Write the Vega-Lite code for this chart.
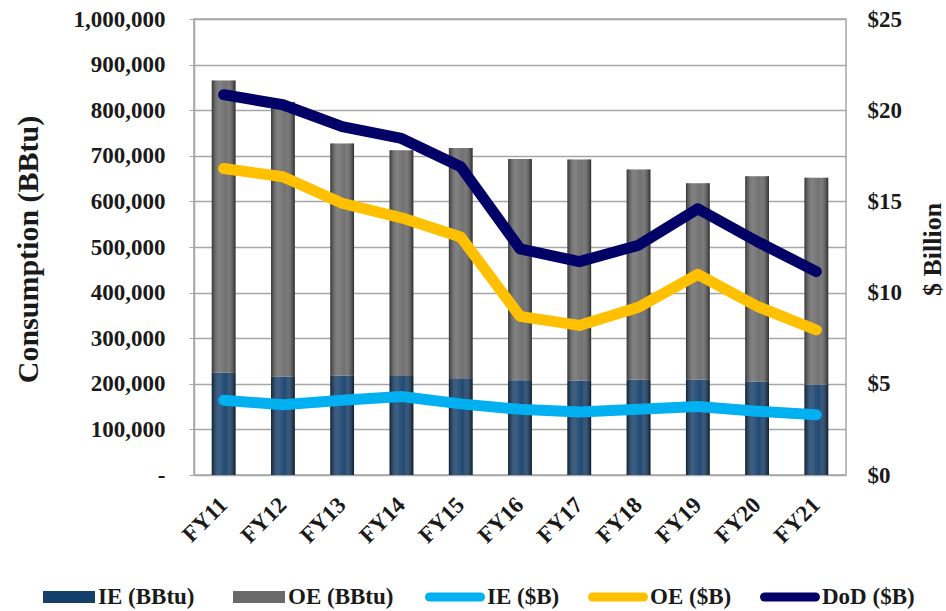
{
  "$schema": "https://vega.github.io/schema/vega-lite/v6.json",
  "width": 652,
  "height": 456,
  "autosize": {"type": "none"},
  "padding": {"left": 194, "top": 19, "right": 100, "bottom": 136},
  "background": "white",
  "config": {
    "font": "Liberation Serif",
    "view": {"stroke": "#a6a6a6", "strokeWidth": 1.5},
    "axis": {
      "labelFont": "Liberation Serif",
      "labelFontWeight": "bold",
      "labelColor": "#1a1a1a",
      "titleFont": "Liberation Serif",
      "titleFontWeight": "bold",
      "titleColor": "#1a1a1a"
    },
    "legend": {
      "labelFont": "Liberation Serif",
      "labelFontWeight": "bold",
      "labelFontSize": 23,
      "labelColor": "#1a1a1a",
      "labelLimit": 300
    }
  },
  "datasets": {
    "bbtu": [
      {"year": "FY11", "series": "IE (BBtu)", "value": 224000},
      {"year": "FY11", "series": "OE (BBtu)", "value": 641000},
      {"year": "FY12", "series": "IE (BBtu)", "value": 216000},
      {"year": "FY12", "series": "OE (BBtu)", "value": 602000},
      {"year": "FY13", "series": "IE (BBtu)", "value": 218000},
      {"year": "FY13", "series": "OE (BBtu)", "value": 509000},
      {"year": "FY14", "series": "IE (BBtu)", "value": 217000},
      {"year": "FY14", "series": "OE (BBtu)", "value": 495000},
      {"year": "FY15", "series": "IE (BBtu)", "value": 212000},
      {"year": "FY15", "series": "OE (BBtu)", "value": 505000},
      {"year": "FY16", "series": "IE (BBtu)", "value": 208000},
      {"year": "FY16", "series": "OE (BBtu)", "value": 485000},
      {"year": "FY17", "series": "IE (BBtu)", "value": 207000},
      {"year": "FY17", "series": "OE (BBtu)", "value": 485000},
      {"year": "FY18", "series": "IE (BBtu)", "value": 209000},
      {"year": "FY18", "series": "OE (BBtu)", "value": 461000},
      {"year": "FY19", "series": "IE (BBtu)", "value": 209000},
      {"year": "FY19", "series": "OE (BBtu)", "value": 431000},
      {"year": "FY20", "series": "IE (BBtu)", "value": 205000},
      {"year": "FY20", "series": "OE (BBtu)", "value": 450000},
      {"year": "FY21", "series": "IE (BBtu)", "value": 198000},
      {"year": "FY21", "series": "OE (BBtu)", "value": 454000}
    ],
    "usd": [
      {"year": "FY11", "series": "IE ($B)", "value": 4.1},
      {"year": "FY12", "series": "IE ($B)", "value": 3.85},
      {"year": "FY13", "series": "IE ($B)", "value": 4.1},
      {"year": "FY14", "series": "IE ($B)", "value": 4.3},
      {"year": "FY15", "series": "IE ($B)", "value": 3.9},
      {"year": "FY16", "series": "IE ($B)", "value": 3.6},
      {"year": "FY17", "series": "IE ($B)", "value": 3.45},
      {"year": "FY18", "series": "IE ($B)", "value": 3.6},
      {"year": "FY19", "series": "IE ($B)", "value": 3.75},
      {"year": "FY20", "series": "IE ($B)", "value": 3.5},
      {"year": "FY21", "series": "IE ($B)", "value": 3.3},
      {"year": "FY11", "series": "OE ($B)", "value": 16.8},
      {"year": "FY12", "series": "OE ($B)", "value": 16.35},
      {"year": "FY13", "series": "OE ($B)", "value": 14.9},
      {"year": "FY14", "series": "OE ($B)", "value": 14.1},
      {"year": "FY15", "series": "OE ($B)", "value": 13.05},
      {"year": "FY16", "series": "OE ($B)", "value": 8.7},
      {"year": "FY17", "series": "OE ($B)", "value": 8.2},
      {"year": "FY18", "series": "OE ($B)", "value": 9.2},
      {"year": "FY19", "series": "OE ($B)", "value": 11.0},
      {"year": "FY20", "series": "OE ($B)", "value": 9.25},
      {"year": "FY21", "series": "OE ($B)", "value": 7.95},
      {"year": "FY11", "series": "DoD ($B)", "value": 20.85},
      {"year": "FY12", "series": "DoD ($B)", "value": 20.3},
      {"year": "FY13", "series": "DoD ($B)", "value": 19.1},
      {"year": "FY14", "series": "DoD ($B)", "value": 18.45},
      {"year": "FY15", "series": "DoD ($B)", "value": 16.9},
      {"year": "FY16", "series": "DoD ($B)", "value": 12.4},
      {"year": "FY17", "series": "DoD ($B)", "value": 11.7},
      {"year": "FY18", "series": "DoD ($B)", "value": 12.6},
      {"year": "FY19", "series": "DoD ($B)", "value": 14.6},
      {"year": "FY20", "series": "DoD ($B)", "value": 12.8},
      {"year": "FY21", "series": "DoD ($B)", "value": 11.15}
    ]
  },
  "encoding": {
    "x": {
      "field": "year",
      "type": "ordinal",
      "scale": {"paddingInner": 0.6, "paddingOuter": 0.3},
      "axis": {
        "title": null,
        "labelAngle": -45,
        "labelAlign": "right",
        "labelBaseline": "middle",
        "labelFontSize": 23,
        "labelPadding": 26,
        "ticks": false,
        "domain": false,
        "grid": false
      }
    }
  },
  "layer": [
    {
      "data": {"name": "bbtu"},
      "encoding": {
        "y": {
          "field": "value",
          "type": "quantitative",
          "stack": "zero",
          "scale": {"domain": [0, 1000000], "nice": false},
          "axis": {
            "orient": "left",
            "title": "Consumption (BBtu)",
            "values": [0, 100000, 200000, 300000, 400000, 500000, 600000, 700000, 800000, 900000, 1000000],
            "labelExpr": "datum.value === 0 ? '-\u00a0\u00a0' : format(datum.value, ',')",
            "labelFontSize": 23,
            "labelPadding": 24,
            "tickSize": 5,
            "tickColor": "#a6a6a6",
            "domainColor": "#a6a6a6",
            "domainWidth": 1.5,
            "grid": true,
            "gridColor": "#a6a6a6",
            "gridWidth": 1.5,
            "titleFontSize": 30,
            "titleAngle": 270,
            "titleAlign": "center",
            "titleBaseline": "middle",
            "titleX": -166,
            "titleY": 230
          }
        },
        "order": {"field": "series", "sort": "ascending"}
      },
      "layer": [
        {
          "mark": {"type": "bar"},
          "encoding": {
            "fill": {
              "field": "series",
              "type": "nominal",
              "scale": {"domain": ["IE (BBtu)", "OE (BBtu)"], "range": ["#153f6b", "#6a6a6a"]},
              "legend": {
                "title": null,
                "orient": "none",
                "direction": "horizontal",
                "legendX": -151,
                "legendY": 552,
                "symbolType": "M-1,-0.23H1V0.23H-1Z",
                "symbolSize": 2704,
                "symbolStrokeWidth": 0,
                "labelOffset": 3,
                "columnPadding": 38
              }
            }
          }
        },
        {
          "mark": {
            "type": "bar",
            "fill": {
              "gradient": "linear",
              "x1": 0, "y1": 0, "x2": 1, "y2": 0,
              "stops": [
                {"offset": 0, "color": "rgba(0,0,0,0.5)"},
                {"offset": 0.35, "color": "rgba(255,255,255,0.15)"},
                {"offset": 0.6, "color": "rgba(255,255,255,0.05)"},
                {"offset": 1, "color": "rgba(0,0,0,0.6)"}
              ]
            }
          },
          "encoding": {
            "detail": {"field": "series", "type": "nominal"}
          }
        }
      ]
    },
    {
      "data": {"name": "usd"},
      "mark": {"type": "line", "strokeWidth": 11, "strokeCap": "round", "strokeJoin": "round"},
      "encoding": {
        "y": {
          "field": "value",
          "type": "quantitative",
          "scale": {"domain": [0, 25], "nice": false},
          "axis": {
            "orient": "right",
            "title": "$ Billion",
            "values": [0, 5, 10, 15, 20, 25],
            "labelExpr": "'$' + datum.value",
            "labelFontSize": 23,
            "labelPadding": 21,
            "ticks": false,
            "domain": false,
            "grid": false,
            "titleFontSize": 26,
            "titleAngle": 270,
            "titleAlign": "center",
            "titleBaseline": "middle",
            "titleX": 86,
            "titleY": 230
          }
        },
        "stroke": {
          "field": "series",
          "type": "nominal",
          "scale": {"domain": ["IE ($B)", "OE ($B)", "DoD ($B)"], "range": ["#00b0f0", "#ffc000", "#000066"]},
          "legend": {
            "title": null,
            "orient": "none",
            "direction": "horizontal",
            "legendX": 231,
            "legendY": 548,
            "symbolType": "stroke",
            "symbolSize": 2601,
            "symbolStrokeWidth": 9,
            "labelOffset": 2,
            "columnPadding": 14,
            "encode": {"symbols": {"update": {"strokeCap": {"value": "round"}}}}
          }
        }
      }
    }
  ],
  "resolve": {"scale": {"y": "independent"}}
}
